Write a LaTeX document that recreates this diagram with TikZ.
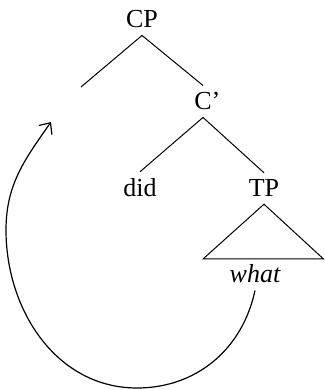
\documentclass[tikz,border=0pt]{standalone}
\usepackage{fontspec}
\setmainfont{Liberation Serif}
\usetikzlibrary{arrows.meta}
\tikzstyle{cat} = [anchor=base, inner sep=7pt, font=\fontsize{26}{30}\selectfont]
\tikzstyle{branch} = [line width=1pt]
\tikzstyle{movearrow} = [line width=1.2pt, -{Straight Barb[length=9pt, width=16pt, line width=1.2pt]}]

\begin{document}
\begin{tikzpicture}[x=1pt, y=1pt]
    \useasboundingbox (0,0) rectangle (324,390);

    % Nodes
    \node (cp) [cat] at (142,362) {CP};
    \coordinate (spec) at (81,303);
    \node (cbar) [cat] at (203,280) {C\rlap{’}};
    \node (did) [cat] at (140,193) {did};
    \node (tp) [cat] at (264,193) {TP};
    \node (what) [cat] at (255,107) {\itshape what};
    \coordinate (tpleft) at (203,131);
    \coordinate (tpright) at (323.5,131);
    \coordinate (landing) at (51,268);

    % Branches
    \draw [branch] (cp.south) -- (spec);
    \draw [branch] (cp.south) -- (cbar.north);
    \draw [branch] (cbar.south) -- (did.north);
    \draw [branch] (cbar.south) -- (tp.north);
    \draw [branch, line join=miter] (tp.south) -- (tpleft) -- (tpright) -- cycle;

    % Movement
    \draw [movearrow] (what.south) to[out=-102, in=0] (137,2)
        to[out=180, in=-90] (6,160) to[out=90, in=-125] (landing);

\end{tikzpicture}
\end{document}
